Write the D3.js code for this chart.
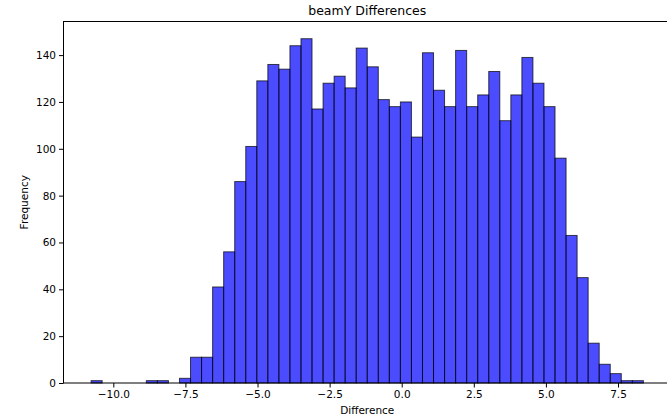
<!DOCTYPE html>
<html>
<head>
<meta charset="utf-8">
<script src="https://cdn.jsdelivr.net/npm/d3@7"></script>
<style>
  html, body { margin: 0; padding: 0; background: #fff; }
  svg { display: block; font-family: "DejaVu Sans", sans-serif; }
</style>
</head>
<body>
<svg id="chart" width="667" height="416"></svg>
<script>
// Histogram of beamY differences: 50 equal-width bins
const binMin = -10.77;
const binMax = 8.38;
const counts = [
  1, 0, 0, 0, 0, 1, 1, 0, 2, 11,
  11, 41, 56, 86, 101, 129, 136, 134, 144, 147,
  117, 128, 131, 126, 143, 135, 121, 118, 120, 105,
  141, 125, 118, 142, 118, 123, 133, 112, 123, 139,
  128, 118, 96, 63, 45, 17, 8, 4, 1, 1
];
const xTicks = [-10, -7.5, -5, -2.5, 0, 2.5, 5, 7.5];
const yTicks = [0, 20, 40, 60, 80, 100, 120, 140];

const W = 667, H = 416;
const margin = { left: 63.5, right: -4, top: 21.5, bottom: 33 };
const svg = d3.select("#chart");

const binWidth = (binMax - binMin) / counts.length;
const bins = counts.map((c, i) => ({
  x0: binMin + i * binWidth,
  x1: binMin + (i + 1) * binWidth,
  count: c
}));

const pad = (binMax - binMin) * 0.05;
const x = d3.scaleLinear()
  .domain([binMin - pad, binMax + pad])
  .range([margin.left, W - margin.right]);
const y = d3.scaleLinear()
  .domain([0, d3.max(counts) * 1.05])
  .range([H - margin.bottom, margin.top]);

const fmt = v => d3.format(".1f")(v).replace("-", "\u2212");

// Bars
svg.append("g")
  .selectAll("rect")
  .data(bins.filter(b => b.count > 0))
  .join("rect")
  .attr("x", d => x(d.x0))
  .attr("width", d => x(d.x1) - x(d.x0))
  .attr("y", d => y(d.count))
  .attr("height", d => y(0) - y(d.count))
  .attr("fill", "#0000ff")
  .attr("fill-opacity", 0.7)
  .attr("stroke", "#000")
  .attr("stroke-opacity", 0.7)
  .attr("stroke-width", 1);

// Frame
svg.append("rect")
  .attr("x", margin.left)
  .attr("y", margin.top)
  .attr("width", x.range()[1] - margin.left)
  .attr("height", y(0) - margin.top)
  .attr("fill", "none")
  .attr("stroke", "#000")
  .attr("stroke-width", 1);

// Axes
const xAxis = svg.append("g")
  .attr("transform", `translate(0,${y(0)})`)
  .call(d3.axisBottom(x).tickValues(xTicks).tickFormat(fmt).tickSize(4.5).tickPadding(3));
const yAxis = svg.append("g")
  .attr("transform", `translate(${margin.left},0)`)
  .call(d3.axisLeft(y).tickValues(yTicks).tickFormat(d3.format("d")).tickSize(4.5).tickPadding(3));

[xAxis, yAxis].forEach(g => {
  g.select(".domain").remove();
  g.selectAll("text").attr("font-size", 10.5).attr("fill", "#000")
    .attr("font-family", "DejaVu Sans, sans-serif");
  g.selectAll("line").attr("stroke", "#000");
});

// Title and axis labels
svg.append("text")
  .attr("x", (margin.left + x.range()[1]) / 2)
  .attr("y", 15)
  .attr("text-anchor", "middle")
  .attr("font-size", 12.5)
  .text("beamY Differences");

svg.append("text")
  .attr("x", (margin.left + x.range()[1]) / 2)
  .attr("y", 414)
  .attr("text-anchor", "middle")
  .attr("font-size", 10.5)
  .text("Difference");

svg.append("text")
  .attr("transform", `translate(28,${(margin.top + y(0)) / 2}) rotate(-90)`)
  .attr("text-anchor", "middle")
  .attr("font-size", 10.5)
  .text("Frequency");
</script>
</body>
</html>
